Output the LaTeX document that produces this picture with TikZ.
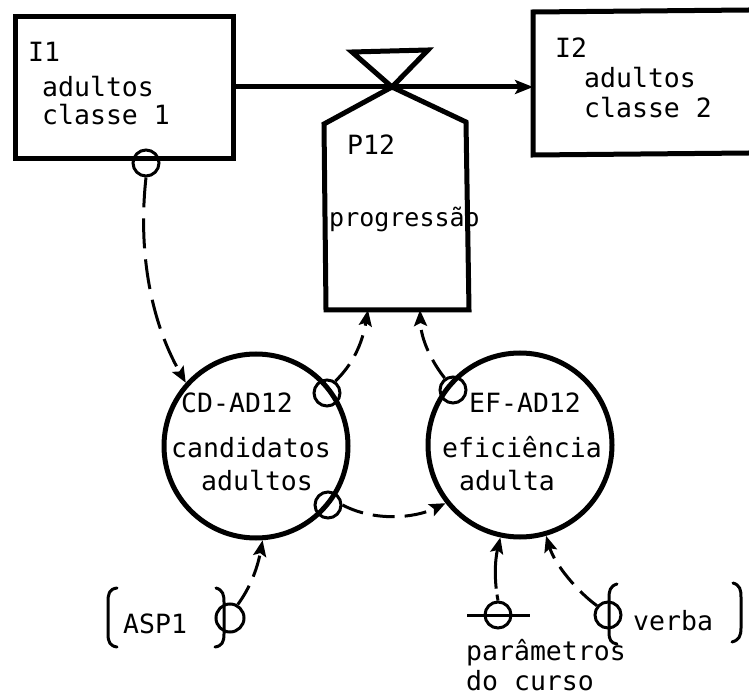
\documentclass[tikz,border=0pt]{standalone}
\usepackage{fontspec}
\newfontfamily\tw{DejaVu Sans Mono}
\usetikzlibrary{arrows.meta}
\tikzset{
  txt/.style={font=\tw\fontsize{26.5}{30}\selectfont, inner sep=0pt, anchor=base west},
  stockbox/.style={draw, line width=5pt, rectangle, inner sep=0pt},
  aux/.style={draw, line width=5pt, circle, inner sep=0pt},
  tap/.style={draw, line width=3pt, circle, inner sep=0pt, minimum size=26pt},
  thick4/.style={line width=5pt},
  infl/.style={line width=3pt, dash pattern=on 22pt off 10pt, -{Stealth[length=16pt,width=13pt,inset=3pt]}},
  brk/.style={line width=3pt, line cap=round}
}
\begin{document}
\begin{tikzpicture}[x=1pt,y=-1pt]
\useasboundingbox (0,0) rectangle (749,700);
% stocks
\node[stockbox, minimum width=218pt, minimum height=142pt] (I1) at (124,88) {};
\coordinate (i2tr) at (749,10);
\coordinate (i2tl) at (533,12);
\coordinate (i2bl) at (533,155);
\coordinate (i2br) at (749,153);
\coordinate (i2w) at (533,87);
\draw[thick4, line join=miter] (i2tr) -- (i2tl) -- (i2bl) -- (i2br);
\node[txt] (I1a) at (28,62) {I1};
\node[txt] (I1b) at (42,97) {adultos};
\node[txt] (I1c) at (42,125) {classe 1};
\node[txt] (I2a) at (555,58) {I2};
\node[txt] (I2b) at (584,88) {adultos};
\node[txt] (I2c) at (584,118) {classe 2};
% valve
\coordinate (vc) at (392,87);
\coordinate (vtl) at (352,52);
\coordinate (vtr) at (428,50);
\coordinate (vl) at (324,124);
\coordinate (vr) at (466,122);
\coordinate (vbl) at (326,310);
\coordinate (vbr) at (469,310);
\coordinate (pb1) at (368,310);
\coordinate (pb2) at (420,310);
\draw[thick4, line join=miter] (vtl) -- (vtr) -- (vc) -- cycle;
\draw[thick4, line join=miter] (vc) -- (vl) -- (vbl) -- (vbr) -- (vr) -- cycle;
\draw[thick4, -{Stealth[length=18pt,width=14pt,inset=4pt]}] (I1.east |- vc) -- (i2w);
\node[txt] (P12) at (347,155) {P12};
\node[txt, font=\tw\fontsize{25}{30}\selectfont] (prog) at (329,227) {progressão};
% auxiliaries
\node[aux, minimum size=184pt] (cd) at (256,446) {};
\node[aux, minimum size=184pt] (ef) at (520,445) {};
\node[txt] (cd1) at (181,412) {CD-AD12};
\node[txt] (cd2) at (171,457) {candidatos};
\node[txt] (cd3) at (201,490) {adultos};
\node[txt] (ef1) at (469,412) {EF-AD12};
\node[txt] (ef2) at (442,457) {eficiência};
\node[txt] (ef3) at (459,490) {adulta};
% taps
\node[tap] (c1) at (146,163) {};
\node[tap] (c2) at (327,393) {};
\node[tap] (c3) at (328,505) {};
\node[tap] (c4) at (453,390) {};
\node[tap, minimum size=28pt] (c5) at (230,618) {};
\node[tap] (c6) at (498,615) {};
\node[tap] (c7) at (608,615) {};
% parameters
\node[txt] (asp) at (123,633) {ASP1};
\node[txt] (verba) at (633,630) {verba};
\node[txt] (par1) at (466,660) {parâmetros};
\node[txt] (par2) at (466,690) {do curso};
\coordinate (hl) at (467,615);
\coordinate (hr) at (530,615);
\draw[line width=3pt] (hl) -- (hr);
% brackets
\draw[brk] (117,588) .. controls (109,589) and (108,594) .. (108,602) -- (108,634) .. controls (108,642) and (110,646) .. (117,647);
\draw[brk] (216,588) .. controls (223,590) and (224,595) .. (224,602) -- (224,634) .. controls (224,642) and (222,646) .. (215,647);
\draw[brk] (617,584) .. controls (610,586) and (609,591) .. (609,598) -- (609,632) .. controls (609,640) and (611,643) .. (617,644);
\draw[brk] (733,583) .. controls (740,585) and (741,590) .. (741,597) -- (741,628) .. controls (741,636) and (739,640) .. (732,642);
% influences
\draw[infl, dash pattern=on 30pt off 11pt] (c1.south) .. controls (138,250) and (150,320) .. (cd.138);
\draw[infl] (c2.55) .. controls (352,365) and (362,345) .. (pb1);
\draw[infl] (c4.125) .. controls (432,362) and (421,340) .. (pb2);
\draw[infl] (c3.east) .. controls (375,522) and (415,518) .. (ef.218);
\draw[infl] (c5.60) .. controls (252,585) and (258,565) .. (cd.274);
\draw[infl, dash pattern=on 6pt off 6pt on 60pt off 4pt] (c6.north) .. controls (494,580) and (495,560) .. (ef.258);
\draw[infl] (c7.140) .. controls (578,592) and (555,565) .. (ef.286);
\end{tikzpicture}
\end{document}
